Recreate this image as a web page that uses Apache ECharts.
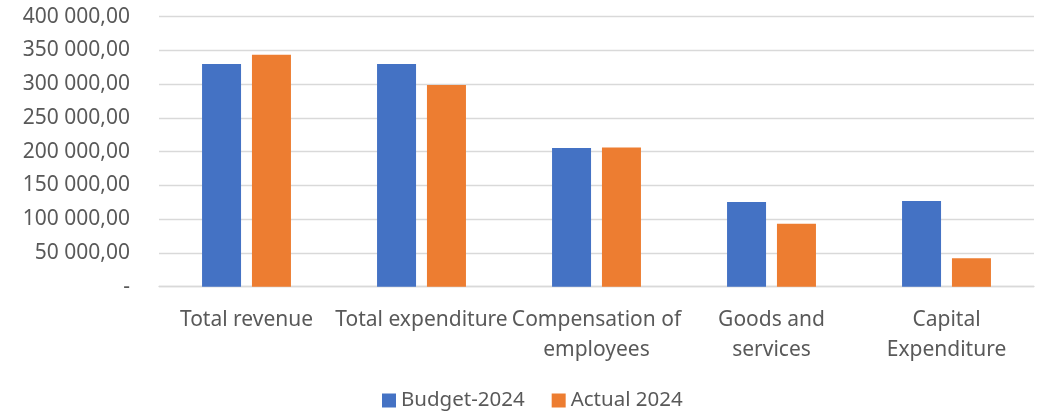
<!DOCTYPE html>
<html>
<head>
<meta charset="utf-8">
<script src="https://cdn.jsdelivr.net/npm/echarts@6/dist/echarts.min.js"></script>
<style>
html,body{margin:0;padding:0;background:#fff;}
#chart{width:1043px;height:413px;}
</style>
</head>
<body>
<div id="chart"></div>
<script>
const categories = ['Total revenue', 'Total expenditure', 'Compensation of\nemployees', 'Goods and\nservices', 'Capital\nExpenditure'];
const budget2024 = [330000, 330000, 205500, 125500, 127000];
const actual2024 = [343700, 298800, 206400, 93300, 42000];
const seriesNames = ['Budget-2024', 'Actual 2024'];

function fmt(v) {
  if (v === 0) return '-';
  const s = Math.round(v).toString().replace(/\B(?=(\d{3})+(?!\d))/g, ' ');
  return s + ',00';
}

const FONT = '"Noto Sans", sans-serif';
const chart = echarts.init(document.getElementById('chart'));
chart.setOption({
  animation: false,
  textStyle: { fontFamily: FONT },
  grid: { left: 159, right: 9, top: 16.7, bottom: 126.3, containLabel: false },
  legend: {
    data: seriesNames,
    bottom: -3,
    left: 377,
    itemWidth: 14,
    itemHeight: 14,
    itemGap: 27,
    icon: 'rect',
    textStyle: { color: '#595959', fontSize: 20.5, fontFamily: FONT }
  },
  xAxis: {
    type: 'category',
    data: categories,
    axisLine: { lineStyle: { color: '#d9d9d9', width: 1.3 } },
    axisTick: { show: false },
    axisLabel: { color: '#595959', fontSize: 21, fontFamily: FONT, interval: 0, margin: 18, lineHeight: 30 }
  },
  yAxis: {
    type: 'value',
    min: 0,
    max: 400000,
    interval: 50000,
    axisLine: { show: false },
    axisTick: { show: false },
    splitLine: { lineStyle: { color: '#d9d9d9', width: 1.3 } },
    axisLabel: { color: '#595959', fontSize: 21, fontFamily: FONT, margin: 29, formatter: fmt }
  },
  series: [
    { name: seriesNames[0], type: 'bar', data: budget2024, barWidth: 39, barGap: '28%', itemStyle: { color: '#4472c4' } },
    { name: seriesNames[1], type: 'bar', data: actual2024, barWidth: 39, itemStyle: { color: '#ed7d31' } }
  ]
});
</script>
</body>
</html>
